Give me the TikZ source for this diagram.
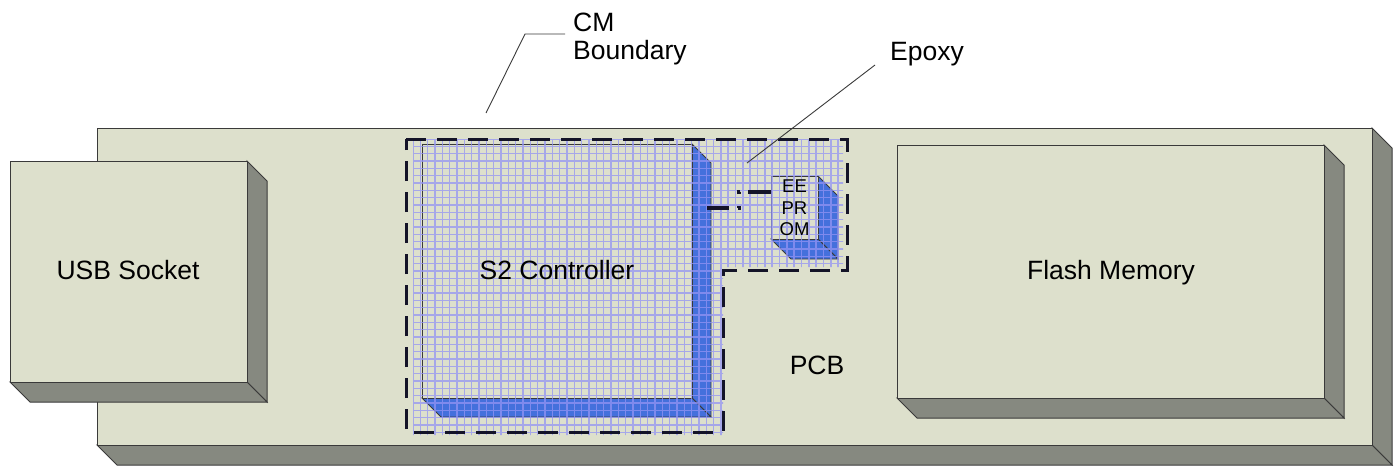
\documentclass[tikz,border=0pt]{standalone}
\usepackage{fontspec}
\setmainfont{Liberation Sans}
\definecolor{pcbface}{HTML}{DDE0CC}
\definecolor{pcbside}{HTML}{868980}
\definecolor{edgecol}{HTML}{3A3A3A}
\definecolor{chipblue}{HTML}{4470DC}
\definecolor{gridcol}{HTML}{9494F4}
\definecolor{inkcol}{HTML}{141428}
\newcommand\boxthreed[6]{%
  \draw[#6] (#3,#2) -- ({#3+#5},{#2+#5}) -- ({#3+#5},{#4+#5}) -- (#3,#4) -- cycle;
  \draw[#6] (#1,#4) -- (#3,#4) -- ({#3+#5},{#4+#5}) -- ({#1+#5},{#4+#5}) -- cycle;
  \draw[facestyle] (#1,#2) rectangle (#3,#4);}
\tikzset{
  facestyle/.style={fill=pcbface, draw=edgecol, line width=1pt},
  sidestyle/.style={fill=pcbside, draw=edgecol, line width=1pt},
  bluestyle/.style={fill=chipblue, draw=edgecol, line width=0.8pt},
  lbl/.style={font=\fontsize{26.5}{30}\selectfont, inner sep=0pt, text=black},
  leader/.style={draw=edgecol, line width=0.9pt},
  gridline/.style={draw=gridcol, line width=1.4pt, opacity=0.75},
  boundary/.style={draw=inkcol, line width=3pt, dash pattern=on 20pt off 11pt},
  conn/.style={draw=inkcol, line width=3.3pt, line cap=butt,
    dash pattern=on 22pt off 9pt on 3pt off 12pt on 3pt off 8pt on 30pt},
}
\begin{document}
\begin{tikzpicture}[x=1pt, y=-1pt]
\useasboundingbox (0,0) rectangle (1398,466);
% PCB
\boxthreed{97}{128}{1372}{445}{20}{sidestyle}
% USB socket
\boxthreed{10}{161}{247}{382}{20}{sidestyle}
% Flash memory
\boxthreed{897}{145}{1324}{398}{20}{sidestyle}
% S2 controller
\boxthreed{422}{144}{692}{398}{19}{bluestyle}
% EEPROM
\boxthreed{771}{176}{818}{239}{20}{bluestyle}
% epoxy grid
\begin{scope}
  \clip (413,139) -- (843,139) -- (843,267) -- (723,267) -- (723,435) -- (413,435) -- cycle;
  \draw[gridline, step=7.33pt, shift={(413,139)}] (0,0) grid (440,300);
\end{scope}
% CM boundary
\draw[boundary] (406,139) -- (847,139) -- (847,270) -- (723,270) -- (723,432) -- (406,432) -- cycle;
% connector
\coordinate (s2port) at (707,208);
\coordinate (eeport) at (771,192);
\draw[conn] (s2port) -- ++(32,0) |- (eeport);
% labels
\node[lbl, anchor=base] (usb) at (128,279.5) {USB Socket};
\node[lbl, anchor=base] (s2) at (557,279.5) {S2 Controller};
\node[lbl, anchor=base] (flash) at (1111,279.5) {Flash Memory};
\node[lbl, anchor=base] (pcb) at (817,374) {PCB};
\node[font=\fontsize{18.5}{21.5}\selectfont, inner sep=0pt, align=center, anchor=north] (ee) at (794.5,180) {EE\\PR\\OM};
\node[lbl, anchor=base west] (cm1) at (573,31) {CM};
\node[lbl, anchor=base west] (cm2) at (573,59.7) {Boundary};
\node[lbl, anchor=base west] (epoxy) at (890,60) {Epoxy};
\coordinate (cmtip) at (486,113);
\coordinate (eptip) at (747,163);
\draw[leader] (cmtip) -- (525,34) -- ([xshift=-8pt]cm1.west |- 525,34);
\draw[leader] (eptip) -- (875,65);
\end{tikzpicture}
\end{document}
